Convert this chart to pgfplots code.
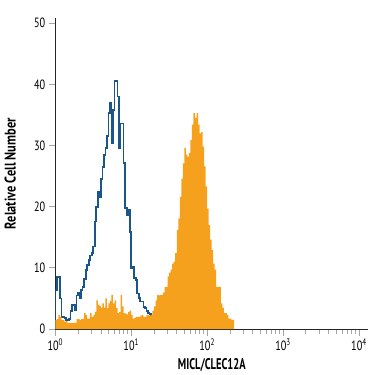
\documentclass[border=0pt]{standalone}
\usepackage{fontspec}
\setmainfont{PT Sans}[FakeStretch=0.76]
\newfontfamily\labelfont{PT Sans}[FakeStretch=0.68]
\newfontfamily\ylabelfont{PT Sans}[FakeStretch=0.80]
\usepackage{pgfplots}
\pgfplotsset{compat=1.18}
\definecolor{isoblue}{RGB}{26,86,140}
\definecolor{miclorange}{RGB}{246,161,30}
\begin{document}
\begin{tikzpicture}
\begin{axis}[
  scale only axis, width=313bp, height=310.7bp,
  at={(0,0)}, anchor=south west,
  xmin=0, xmax=4.123, ymin=0, ymax=50.8,
  axis x line*=bottom, axis y line*=left,
  axis line style={-, black!85, line width=0.8bp},
  tick align=outside,
  xtick={0,1,2,3,4},
  xticklabels={10\textsuperscript{0},10\textsuperscript{1},10\textsuperscript{2},10\textsuperscript{3},10\textsuperscript{4}},
  minor xtick={0.30103,0.47712,0.60206,0.69897,0.77815,0.84510,0.90309,0.95424,
    1.30103,1.47712,1.60206,1.69897,1.77815,1.84510,1.90309,1.95424,
    2.30103,2.47712,2.60206,2.69897,2.77815,2.84510,2.90309,2.95424,
    3.30103,3.47712,3.60206,3.69897,3.77815,3.84510,3.90309,3.95424},
  ytick={0,10,20,30,40,50},
  major tick length=6.5bp, minor tick length=5bp,
  every tick/.style={black!35, line width=0.9bp},
  tick label style={font=\fontsize{13.5}{13.5}\selectfont},
  /pgf/number format/assume math mode=true,
  xlabel={MICL/CLEC12A}, ylabel={Relative Cell Number},
  every axis x label/.style={at={(axis description cs:0.5,0)}, yshift=-36bp, anchor=center},
  every axis y label/.style={at={(axis description cs:0,0.5)}, xshift=-45bp, rotate=90, anchor=center},
  xlabel style={font=\labelfont\bfseries\fontsize{15.5}{15.5}\selectfont},
  ylabel style={font=\ylabelfont\bfseries\fontsize{15.5}{15.5}\selectfont},
]
\addplot[const plot, isoblue, line width=1.7bp] coordinates {
(0.00,0) (0.00,6.4) (0.02,8.5) (0.04,8.5) (0.06,5.0) (0.08,2.0) (0.10,2.0) (0.12,1.8)
(0.14,1.5) (0.16,1.5) (0.18,1.6) (0.20,3.0) (0.22,3.9) (0.24,3.9) (0.26,3.1) (0.28,5.5)
(0.30,5.9) (0.32,5.1) (0.34,6.4) (0.36,6.9) (0.38,8.2) (0.40,9.6) (0.42,10.5) (0.44,11.3)
(0.46,12.0) (0.48,12.4) (0.50,13.5) (0.52,17.6) (0.54,20.0) (0.56,22.5) (0.58,21.6) (0.60,24.5)
(0.62,26.5) (0.64,28.5) (0.66,29.6) (0.68,31.5) (0.70,35.3) (0.72,36.9) (0.74,30.4) (0.76,35.8)
(0.78,40.5) (0.80,40.5) (0.82,38.0) (0.84,29.6) (0.86,33.6) (0.88,33.6) (0.90,27.1) (0.92,19.8)
(0.94,18.6) (0.96,19.5) (0.98,15.9) (1.00,10.0) (1.02,10.2) (1.04,8.3) (1.06,8.0) (1.08,5.8)
(1.10,5.1) (1.12,4.5) (1.14,4.5) (1.16,3.6) (1.18,3.4) (1.20,3.0) (1.22,2.6) (1.24,2.4)
(1.26,2.0) (1.28,1.6) (1.30,1.2) (1.32,0.8) (1.34,0.5) (1.36,0.3) (1.38,0)
};
\addplot[const plot, draw=none, fill=miclorange] coordinates {
(0.00,1.5) (0.02,1.6) (0.04,2.3) (0.06,2.0) (0.08,1.5) (0.10,1.5) (0.12,1.2) (0.14,1.3)
(0.16,1.0) (0.18,1.0) (0.20,1.0) (0.22,1.0) (0.24,1.0) (0.26,1.0) (0.28,1.6) (0.30,1.6)
(0.32,1.5) (0.34,1.6) (0.36,1.6) (0.38,2.6) (0.40,2.3) (0.42,1.7) (0.44,1.7) (0.46,2.6)
(0.48,2.0) (0.50,2.3) (0.52,2.8) (0.54,4.7) (0.56,4.0) (0.58,3.8) (0.60,3.5) (0.62,4.2)
(0.64,3.5) (0.66,5.0) (0.68,3.4) (0.70,4.2) (0.72,4.6) (0.74,5.6) (0.76,4.2) (0.78,4.7)
(0.80,3.4) (0.82,2.6) (0.84,2.8) (0.86,5.6) (0.88,3.7) (0.90,2.6) (0.92,2.5) (0.94,2.4)
(0.96,2.8) (0.98,3.0) (1.00,2.3) (1.02,1.7) (1.04,1.8) (1.06,2.0) (1.08,2.0) (1.10,2.0)
(1.12,2.2) (1.14,2.3) (1.16,2.0) (1.18,2.0) (1.20,2.3) (1.22,2.3) (1.24,2.2) (1.26,2.3)
(1.28,3.0) (1.30,3.7) (1.32,4.7) (1.34,5.6) (1.36,5.5) (1.38,5.6) (1.40,5.6) (1.42,6.0)
(1.44,6.9) (1.46,6.9) (1.48,8.6) (1.50,9.2) (1.52,9.7) (1.54,10.7) (1.56,11.0) (1.58,12.4)
(1.60,16.2) (1.62,18.1) (1.64,21.6) (1.66,24.6) (1.68,27.1) (1.70,29.6) (1.72,28.5) (1.74,28.2)
(1.76,28.8) (1.78,30.9) (1.80,33.4) (1.82,35.3) (1.84,34.5) (1.86,35.3) (1.88,33.4) (1.90,32.0)
(1.92,32.2) (1.94,29.8) (1.96,26.6) (1.98,23.3) (2.00,19.7) (2.02,17.0) (2.04,14.6) (2.06,12.9)
(2.08,10.7) (2.10,9.7) (2.12,6.9) (2.14,6.9) (2.16,6.9) (2.18,4.2) (2.20,3.5) (2.22,2.6)
(2.24,2.6) (2.26,2.3) (2.28,1.7) (2.30,1.7) (2.32,1.5) (2.34,1.5) (2.355,0)
} \closedcycle;
\end{axis}
\pgfresetboundingbox
\path (-55.3bp,-46bp) rectangle (319.7bp,329bp);
\end{tikzpicture}
\end{document}
